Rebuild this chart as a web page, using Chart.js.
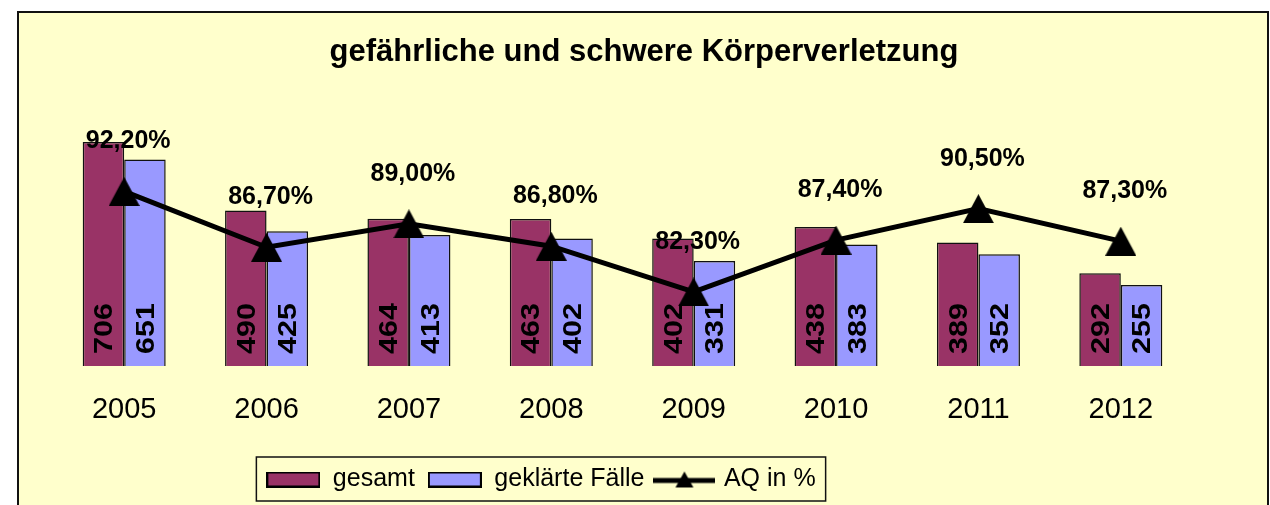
<!DOCTYPE html>
<html>
<head>
<meta charset="utf-8">
<script src="https://cdn.jsdelivr.net/npm/chart.js@4.4.1/dist/chart.umd.min.js"></script>
<style>
  html, body { margin: 0; padding: 0; background: #fff; }
  #wrap { width: 1270px; height: 505px; }
</style>
</head>
<body>
<div id="wrap"><canvas id="myChart" width="1270" height="505"></canvas></div>
<script>
var years = ['2005', '2006', '2007', '2008', '2009', '2010', '2011', '2012'];
var gesamt = [706, 490, 464, 463, 402, 438, 389, 292];
var geklaert = [651, 425, 413, 402, 331, 383, 352, 255];
var aq = [92.2, 86.7, 89.0, 86.8, 82.3, 87.4, 90.5, 87.3];

var FONT = '"Liberation Sans", Arial, sans-serif';

function fmtPct(v) {
    return v.toFixed(2).replace('.', ',') + '%';
}

// legend keys + marker
function barKey(fill) {
    var c = document.createElement('canvas');
    c.width = 54; c.height = 16;
    var g = c.getContext('2d');
    g.fillStyle = fill;
    g.fillRect(0, 0, 54, 16);
    g.strokeStyle = '#000';
    g.lineWidth = 2;
    g.strokeRect(1, 1, 52, 14);
    return c;
}
function lineKey() {
    var c = document.createElement('canvas');
    c.width = 62; c.height = 20;
    var g = c.getContext('2d');
    g.strokeStyle = '#000';
    g.lineWidth = 5;
    g.beginPath(); g.moveTo(0, 11); g.lineTo(62, 11); g.stroke();
    g.fillStyle = '#000';
    g.beginPath(); g.moveTo(31, 2); g.lineTo(40, 18); g.lineTo(22, 18); g.closePath(); g.fill();
    return c;
}
function triMarker() {
    var c = document.createElement('canvas');
    c.width = 31; c.height = 29;
    var g = c.getContext('2d');
    g.fillStyle = '#000';
    g.beginPath(); g.moveTo(15.5, 0); g.lineTo(31, 29); g.lineTo(0, 29); g.closePath(); g.fill();
    return c;
}
var keys = [barKey('#993366'), barKey('#9999FF'), lineKey()];
var marker = triMarker();

// yellow frame behind everything, and moves title/legend to where the original has them
var frame = {
    id: 'frame',
    beforeDraw(chart) {
        var ctx = chart.ctx;
        ctx.save();
        ctx.fillStyle = '#fff';
        ctx.fillRect(0, 0, chart.width, chart.height);
        ctx.fillStyle = '#FFFFCC';
        ctx.fillRect(18, 12, 1250, 520);
        ctx.strokeStyle = '#111';
        ctx.lineWidth = 2;
        ctx.strokeRect(18, 12, 1250, 520);
        ctx.restore();

        var t = chart.titleBlock;
        var dt = 644 - (t.left + t.right) / 2;
        t.left += dt; t.right += dt;

        var l = chart.legend;
        var dl = 541 - (l.left + l.right) / 2;
        l.left += dl; l.right += dl;
    },
    afterDraw(chart) {
        var l = chart.legend;
        var pad = l.options.labels.padding;
        var w = l.lineWidths[0] - pad;
        var cx = (l.left + l.right) / 2;
        var cy = l.top + pad + 12;
        var ctx = chart.ctx;
        ctx.save();
        ctx.strokeStyle = '#111';
        ctx.lineWidth = 1.5;
        ctx.strokeRect(cx - w / 2 - 10, cy - 22, w + 20, 44);
        ctx.restore();
    }
};

var valueLabels = {
    id: 'valueLabels',
    afterDatasetsDraw(chart) {
        var ctx = chart.ctx;
        var base = chart.scales.y.getPixelForValue(0);
        ctx.save();
        ctx.fillStyle = '#000';
        [1, 2].forEach(function (di) {
            var vals = chart.data.datasets[di].data;
            chart.getDatasetMeta(di).data.forEach(function (bar, i) {
                ctx.save();
                ctx.translate(bar.x + 1, base - 12);
                ctx.rotate(-Math.PI / 2);
                ctx.scale(1.22, 1);
                ctx.font = 'bold 25px ' + FONT;
                ctx.textAlign = 'left';
                ctx.textBaseline = 'middle';
                ctx.fillText(String(vals[i]), 0, 1);
                ctx.restore();
            });
        });
        ctx.font = 'bold 25px ' + FONT;
        ctx.textAlign = 'center';
        ctx.textBaseline = 'middle';
        chart.getDatasetMeta(0).data.forEach(function (pt, i) {
            ctx.fillText(fmtPct(aq[i]), pt.x + 4, pt.y - 50);
        });
        ctx.restore();
    }
};

const ctx = document.getElementById('myChart').getContext('2d');
const myChart = new Chart(ctx, {
    type: 'bar',
    data: {
        labels: years,
        datasets: [{
            type: 'line',
            label: 'AQ in %',
            data: aq,
            yAxisID: 'y1',
            borderColor: '#000',
            borderWidth: 5,
            pointStyle: marker,
            pointRadius: 15,
            tension: 0
        }, {
            label: 'gesamt',
            data: gesamt,
            backgroundColor: '#993366',
            borderColor: '#111',
            borderWidth: 1.5,
            categoryPercentage: 0.583,
            barPercentage: 1.0
        }, {
            label: 'geklärte Fälle',
            data: geklaert,
            backgroundColor: '#9999FF',
            borderColor: '#111',
            borderWidth: 1.5,
            categoryPercentage: 0.583,
            barPercentage: 1.0
        }]
    },
    options: {
        responsive: false,
        animation: false,
        layout: { padding: { left: 53, right: 78, top: 0, bottom: 3 } },
        plugins: {
            title: {
                display: true,
                text: 'gefährliche und schwere Körperverletzung',
                color: '#000',
                font: { family: FONT, size: 31, weight: 'bold' },
                padding: { top: 34, bottom: 41 }
            },
            legend: {
                position: 'bottom',
                labels: {
                    color: '#000',
                    font: { family: FONT, size: 25 },
                    usePointStyle: true,
                    pointStyleWidth: 54,
                    padding: 13,
                    generateLabels: function (chart) {
                        var items = Chart.defaults.plugins.legend.labels.generateLabels(chart);
                        var order = [1, 2, 0];
                        return order.map(function (di, k) {
                            var it = items.find(function (x) { return x.datasetIndex === di; });
                            it.pointStyle = keys[k];
                            return it;
                        });
                    }
                }
            },
            tooltip: { enabled: false }
        },
        scales: {
            x: {
                grid: { display: false, drawTicks: false },
                border: { display: false },
                ticks: { color: '#000', font: { family: FONT, size: 29 }, padding: 27 },
                afterFit: function (s) { s.height = 88; }
            },
            y: {
                display: false,
                min: 0,
                max: 800
            },
            y1: {
                display: false,
                min: 75,
                max: 100
            }
        }
    },
    plugins: [frame, valueLabels]
});
</script>
</body>
</html>
